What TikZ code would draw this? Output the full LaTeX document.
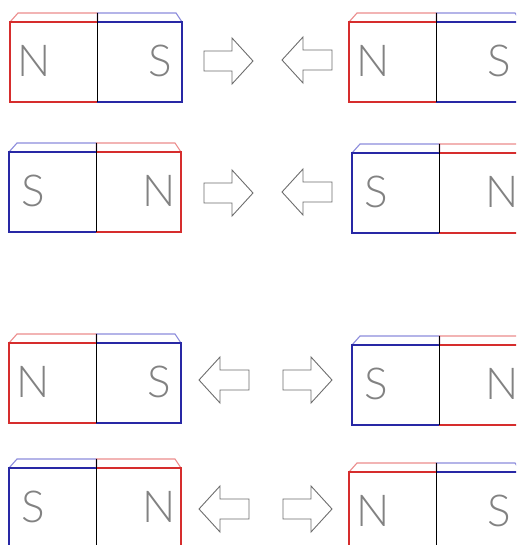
\documentclass[tikz,border=0pt]{standalone}
\usepackage{fontspec}
\IfFontExistsTF{Lato Light}
  {\newfontfamily\polefont{Lato Light}}
  {\newfontfamily\polefont{Open Sans}}
\definecolor{nred}{RGB}{214,45,45}
\definecolor{sblue}{RGB}{40,40,165}
\definecolor{nredback}{RGB}{236,140,140}
\definecolor{sblueback}{RGB}{140,140,220}
\definecolor{letter}{RGB}{130,130,130}
\definecolor{arrowgray}{RGB}{110,110,110}
\tikzset{
  nface/.style={draw=nred, line width=1.1pt},
  sface/.style={draw=sblue, line width=1.1pt},
  nback/.style={draw=nredback, line width=1.1pt},
  sback/.style={draw=sblueback, line width=1.1pt},
  divider/.style={draw=black, line width=1pt},
  blockarrow/.style={draw=arrowgray, line width=0.9pt, line join=miter},
  pole/.style={text=letter, font=\polefont\fontsize{44}{44}\selectfont, inner sep=0pt}
}
% half of a magnet: #1 left x, #2 right x, #3 front top y, #4 face style, #5 back style,
% #6 inset of the back edge at left, #7 inset at right
\newcommand\magnethalf[7]{%
  \draw[#5] (#1,#3) -- (#1+#6,#3-9) -- (#2-#7,#3-9) -- (#2,#3);
  \draw[#4] (#1,#3) rectangle (#2,#3+80);
}
% bar magnet: #1 left x, #2 front top y, #3 left pole (N/S), #4 right pole (N/S), #5 name
\newcommand\barmagnet[5]{%
  \ifx N#3\def\lf{nface}\def\lb{nback}\else\def\lf{sface}\def\lb{sback}\fi
  \ifx N#4\def\rf{nface}\def\rb{nback}\else\def\rf{sface}\def\rb{sback}\fi
  \magnethalf{#1}{#1+87.5}{#2}{\lf}{\lb}{8}{0}
  \magnethalf{#1+87.5}{#1+172}{#2}{\rf}{\rb}{0}{6}
  \draw[divider] (#1+87.5,#2-9) -- (#1+87.5,#2+80);
  \node[pole] (#5-left) at (#1+24,#2+39) {#3};
  \node[pole] (#5-right) at (#1+150,#2+39) {#4};
}
% block arrows: #1 tip x, #2 centre y
\newcommand\rightblock[2]{%
  \draw[blockarrow] (#1-49,#2-10) -- (#1-21,#2-10) -- (#1-21,#2-23) -- (#1,#2)
    -- (#1-21,#2+23) -- (#1-21,#2+10) -- (#1-49,#2+10) -- cycle;
}
\newcommand\leftblock[2]{%
  \draw[blockarrow] (#1+50,#2-10) -- (#1+21,#2-10) -- (#1+21,#2-23) -- (#1,#2)
    -- (#1+21,#2+23) -- (#1+21,#2+10) -- (#1+50,#2+10) -- cycle;
}
\begin{document}
\begin{tikzpicture}[x=1pt, y=-1pt]
  \useasboundingbox (0,0) rectangle (516,545);
  \fill[white] (0,0) rectangle (516,545);
  \begin{scope}
  \clip (0,0) rectangle (516,545);
  % like poles facing: repulsion
  \barmagnet{10}{22}{N}{S}{m1a}
  \rightblock{253}{61}
  \leftblock{282}{60}
  \barmagnet{349}{22}{N}{S}{m1b}

  \barmagnet{9}{152}{S}{N}{m2a}
  \rightblock{253}{193}
  \leftblock{282}{192}
  \barmagnet{352}{153}{S}{N}{m2b}

  % opposite poles facing: attraction
  \barmagnet{9}{343}{N}{S}{m3a}
  \leftblock{199}{380}
  \rightblock{332}{380}
  \barmagnet{352}{345}{S}{N}{m3b}

  \barmagnet{9}{468}{S}{N}{m4a}
  \leftblock{199}{509}
  \rightblock{332}{509}
  \barmagnet{349}{472}{N}{S}{m4b}
  \end{scope}
\end{tikzpicture}
\end{document}
